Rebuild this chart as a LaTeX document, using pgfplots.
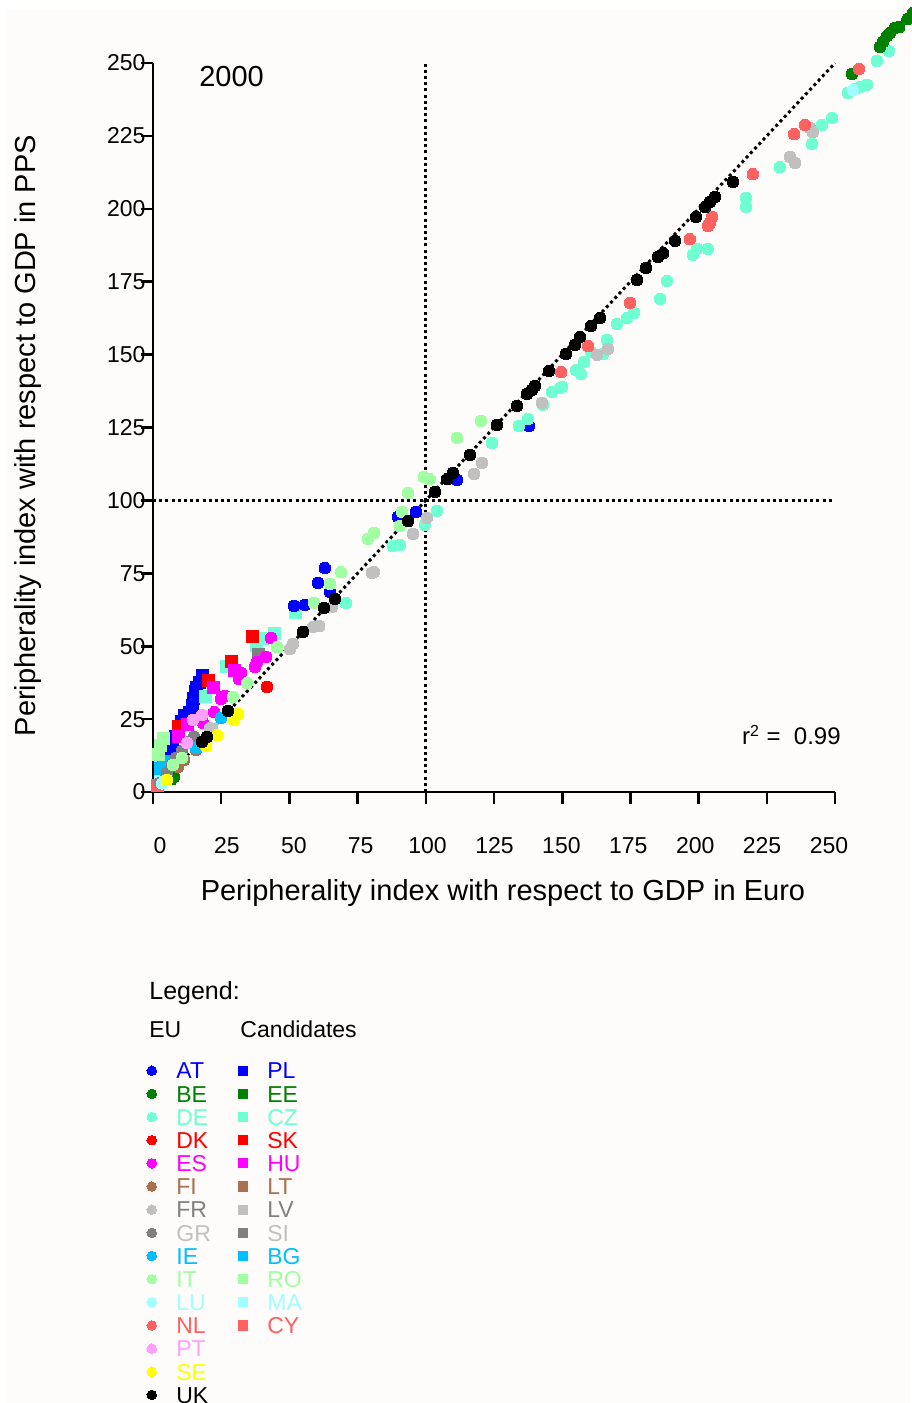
\documentclass[border=0pt]{standalone}
\usepackage{pgfplots}
\pgfplotsset{compat=1.18}
\usepackage{fontspec}
\setmainfont{Liberation Sans}

\definecolor{bg}{RGB}{253,252,250}
\definecolor{cBlue}{RGB}{0,0,255}
\definecolor{cGreen}{RGB}{0,128,0}
\definecolor{cAqua}{RGB}{112,255,210}
\definecolor{cRed}{RGB}{255,0,0}
\definecolor{cMag}{RGB}{255,0,255}
\definecolor{cBrown}{RGB}{168,112,79}
\definecolor{cLGray}{RGB}{192,192,192}
\definecolor{cGray}{RGB}{128,128,128}
\definecolor{cSky}{RGB}{0,191,255}
\definecolor{cPaleG}{RGB}{160,255,160}
\definecolor{cLCyan}{RGB}{160,255,255}
\definecolor{cSalmon}{RGB}{255,96,96}
\definecolor{cPink}{RGB}{255,160,255}
\definecolor{cYellow}{RGB}{255,255,0}

\pgfplotsset{
  eu/.style={only marks, mark=*, mark size=2.9pt, color=#1, mark options={fill=#1, draw=#1, line width=0pt}, forget plot},
  cand/.style={only marks, mark=square*, mark size=3pt, color=#1, mark options={fill=#1, draw=#1, line width=0pt}, forget plot},
  legeu/.style={only marks, mark=*, mark size=2.4pt, color=#1, mark options={line width=0pt},
    legend image code/.code={\draw[##1] plot coordinates {(0pt,0pt)};}},
  legca/.style={only marks, mark=square*, mark size=2.3pt, color=#1, mark options={line width=0pt},
    legend image code/.code={\draw[##1] plot coordinates {(0pt,0pt)};}},
  refline/.style={forget plot, black, line width=1.5pt, dash pattern=on 1.5pt off 1.6pt},
}
\newcommand{\ltx}[2]{\makebox[31pt][l]{\textcolor{#1}{#2}}}

\begin{document}
\begin{tikzpicture}
\fill[bg] (-73.5pt,-305.5pt) rectangle (379pt,391pt);
\begin{axis}[
    scale only axis,
    width=341pt, height=364.5pt,
    xmin=0, xmax=250, ymin=0, ymax=250,
    clip=false,
    axis x line*=bottom, axis y line*=left,
    axis line style={line width=1.3pt, -},
    xtick={0,25,...,250}, ytick={0,25,...,250},
    tick align=outside, major tick length=5.75pt,
    tick style={line width=1.3pt, black},
    ticklabel style={font=\fontsize{11.5}{13}\selectfont},
    /pgf/number format/assume math mode=true,
    xticklabel={\pgfmathsetmacro{\sh}{7-0.052*\tick}\hspace*{\sh pt}\pgfmathprintnumber{\tick}},
    xticklabel style={yshift=-13.5pt},
    yticklabel style={xshift=5.5pt},
    xlabel={Peripherality index with respect to GDP in Euro},
    ylabel={Peripherality index with respect to GDP in PPS},
    label style={font=\fontsize{14.5}{17}\selectfont},
    xlabel style={at={(axis description cs:0.5132,-0.149)}, anchor=base},
    ylabel style={at={(axis description cs:-0.1716,0.489)}, anchor=base},
    legend columns=2, legend cell align=left,
    legend style={at={(axis description cs:-0.0088,-0.3709)}, anchor=north west,
      draw=none, fill=none, inner sep=0pt, outer sep=0pt, row sep=3.28pt,
      font=\fontsize{11.5}{11.5}\selectfont,
      nodes={inner sep=0pt, outer sep=0pt, text height=8.3pt, text depth=0pt},
      /tikz/every odd column/.append style={column sep=9.9pt}},
]

% reference lines
\addplot[refline] coordinates {(100,0) (100,250)};
\addplot[refline] coordinates {(0,100) (250,100)};
\addplot[refline] coordinates {(0,0) (250,250)};

% candidates
\addplot[cand=cBlue] coordinates {(18.3,40.1) (16.9,37.7) (16.1,36.0) (15.4,34.3) (14.7,32.2) (14.3,29.8) (13.2,27.4) (11.7,26.1) (10.3,24.3) (9.2,21.9) (8.1,18.9) (7.3,16.1) (6.6,13.7)};
\addplot[cand=cGreen] coordinates {(6.0,4.5)};
\addplot[cand=cAqua] coordinates {(52.1,61.7) (44.7,54.5) (40.0,52.5) (38.1,50.1) (27.1,42.9) (19.1,32.6) (2.6,4.1)};
\addplot[cand=cRed] coordinates {(36.3,53.5) (28.6,44.9) (20.5,38.1) (9.2,22.3)};
\addplot[cand=cMag] coordinates {(29.7,41.8) (22.0,36.0) (12.8,23.0) (9.2,18.9)};
\addplot[cand=cBrown] coordinates {(4.8,6.9)};
\addplot[cand=cLGray] coordinates {(21.3,21.3)};
\addplot[cand=cGray] coordinates {(38.5,47.0)};
\addplot[cand=cSky] coordinates {(3.7,10.3) (2.6,8.2)};
\addplot[cand=cPaleG] coordinates {(3.7,18.5) (2.9,15.8) (2.2,13.0)};
\addplot[cand=cLCyan] coordinates {(2.9,3.4)};
\addplot[cand=cSalmon] coordinates {(1.5,2.1)};

% EU
\addplot[eu=cBlue] coordinates {(137.8,125.5) (111.4,107.0) (96.4,96.0) (89.8,94.3) (63.0,76.8) (60.5,71.7) (64.9,68.6) (55.7,64.1) (51.7,63.8)};
\addplot[eu=cAqua] coordinates {(269.8,254.1) (265.4,250.7) (254.8,239.7) (257.3,241.1) (259.2,241.8) (261.7,242.5)
  (248.9,231.1) (245.2,228.7) (241.6,222.2) (229.8,214.3) (217.4,203.7) (217.4,200.6) (203.4,186.2) (199.4,186.2)
  (197.9,184.2) (188.4,175.2) (185.9,169.1) (176.3,164.3) (173.8,162.6) (170.1,160.5) (166.4,155.0) (165.0,150.2)
  (160.6,150.9) (158.0,147.5) (155.1,144.7) (156.9,143.3) (149.9,138.9) (149.2,138.5) (146.3,137.2) (143.0,132.7)
  (137.5,127.9) (134.2,125.5) (124.3,119.7) (104.1,96.4) (99.7,91.6) (90.5,84.7) (88.0,84.4) (70.7,64.8)};
\addplot[eu=cGreen] coordinates {(256.2,246.2) (266.5,255.5) (267.6,257.2) (269.1,259.3) (270.2,260.3) (272.0,262.0) (273.5,262.3) (276.6,265.1) (278.6,267.1) (7.7,5.1)};
\addplot[eu=cRed] coordinates {(41.8,36.0)};
\addplot[eu=cMag] coordinates {(43.3,52.8) (41.4,46.3) (38.1,44.6) (37.4,42.9) (32.3,40.8) (31.5,38.8) (26.4,32.9) (24.9,31.9) (22.4,27.4) (18.3,23.7)};
\addplot[eu=cBrown] coordinates {(15.8,14.4) (11.4,11.0) (9.2,8.6)};
\addplot[eu=cLGray] coordinates {(240.8,227.7) (241.9,226.3) (233.5,217.8) (235.3,215.7) (166.8,151.9) (162.8,149.9) (142.6,133.4)
  (120.6,112.8) (117.7,109.1) (100.4,94.0) (95.3,88.5) (81.0,75.4) (80.3,75.1) (65.6,63.4) (60.9,56.9) (58.7,56.6)
  (51.3,50.8) (50.2,49.0) (20.9,21.9)};
\addplot[eu=cGray] coordinates {(15.0,18.9) (13.2,17.1) (10.6,14.1) (8.4,11.7) (7.0,9.3) (5.1,6.5) (2.6,3.1)};
\addplot[eu=cSky] coordinates {(24.9,25.4) (15.8,15.1)};
\addplot[eu=cPaleG] coordinates {(120.2,127.2) (111.4,121.4) (101.5,107.3) (99.3,108.0) (93.5,102.5) (91.3,96.0) (90.5,91.2)
  (81.0,88.8) (78.8,86.8) (68.9,75.4) (64.9,71.3) (59.0,64.8) (45.5,49.7) (34.5,37.4) (29.3,32.6) (10.6,11.7) (7.3,9.3)};
\addplot[eu=cLCyan] coordinates {(256.6,240.7) (3.3,3.0)};
\addplot[eu=cSalmon] coordinates {(258.8,247.9) (239.0,228.7) (235.0,225.6) (219.9,211.9) (204.9,197.2) (204.2,195.1) (203.4,194.1)
  (196.8,189.6) (174.9,167.7) (159.5,152.9) (149.6,144.0)};
\addplot[eu=cPink] coordinates {(18.0,26.4) (14.7,24.7) (12.5,16.8)};
\addplot[eu=cYellow] coordinates {(31.2,26.7) (29.7,24.7) (23.5,19.5) (19.4,15.8) (5.1,4.1)};
\addplot[eu=black] coordinates {(17.96,17.15) (19.8,18.9) (27.5,27.8) (55.0,54.9) (62.7,63.1) (66.7,66.2) (93.5,92.9)
  (103.4,102.9) (107.8,107.3) (110.0,109.4) (116.2,115.6) (126.1,125.9) (133.4,132.4) (137.1,136.5) (138.9,137.9)
  (140.0,139.2) (145.2,144.4) (151.4,150.2) (154.7,153.3) (156.5,156.0) (160.6,159.8) (163.9,162.6) (177.4,175.6)
  (180.7,179.7) (185.1,183.5) (187.0,184.8) (191.4,189.0) (199.1,197.2) (202.4,200.6) (204.2,202.3) (206.0,204.1) (212.6,209.2)};

% legend (EU column / candidates column)
\addlegendimage{legeu=cBlue}\addlegendentry{\ltx{cBlue}{AT}}
\addlegendimage{legca=cBlue}\addlegendentry{\textcolor{cBlue}{PL}}
\addlegendimage{legeu=cGreen}\addlegendentry{\ltx{cGreen}{BE}}
\addlegendimage{legca=cGreen}\addlegendentry{\textcolor{cGreen}{EE}}
\addlegendimage{legeu=cAqua}\addlegendentry{\ltx{cAqua}{DE}}
\addlegendimage{legca=cAqua}\addlegendentry{\textcolor{cAqua}{CZ}}
\addlegendimage{legeu=cRed}\addlegendentry{\ltx{cRed}{DK}}
\addlegendimage{legca=cRed}\addlegendentry{\textcolor{cRed}{SK}}
\addlegendimage{legeu=cMag}\addlegendentry{\ltx{cMag}{ES}}
\addlegendimage{legca=cMag}\addlegendentry{\textcolor{cMag}{HU}}
\addlegendimage{legeu=cBrown}\addlegendentry{\ltx{cBrown}{FI}}
\addlegendimage{legca=cBrown}\addlegendentry{\textcolor{cBrown}{LT}}
\addlegendimage{legeu=cLGray}\addlegendentry{\ltx{cGray}{FR}}
\addlegendimage{legca=cLGray}\addlegendentry{\textcolor{cGray}{LV}}
\addlegendimage{legeu=cGray}\addlegendentry{\ltx{cLGray}{GR}}
\addlegendimage{legca=cGray}\addlegendentry{\textcolor{cLGray}{SI}}
\addlegendimage{legeu=cSky}\addlegendentry{\ltx{cSky}{IE}}
\addlegendimage{legca=cSky}\addlegendentry{\textcolor{cSky}{BG}}
\addlegendimage{legeu=cPaleG}\addlegendentry{\ltx{cPaleG}{IT}}
\addlegendimage{legca=cPaleG}\addlegendentry{\textcolor{cPaleG}{RO}}
\addlegendimage{legeu=cLCyan}\addlegendentry{\ltx{cLCyan}{LU}}
\addlegendimage{legca=cLCyan}\addlegendentry{\textcolor{cLCyan}{MA}}
\addlegendimage{legeu=cSalmon}\addlegendentry{\ltx{cSalmon}{NL}}
\addlegendimage{legca=cSalmon}\addlegendentry{\textcolor{cSalmon}{CY}}
\addlegendimage{legeu=cPink}\addlegendentry{\ltx{cPink}{PT}}
\addlegendimage{empty legend}\addlegendentry{}
\addlegendimage{legeu=cYellow}\addlegendentry{\ltx{cYellow}{SE}}
\addlegendimage{empty legend}\addlegendentry{}
\addlegendimage{legeu=black}\addlegendentry{\ltx{black}{UK}}

\node[anchor=base west, inner sep=0pt, font=\fontsize{14.5}{17}\selectfont] at (axis description cs:0.0674,0.9671) {2000};
\node[anchor=base west, inner sep=0pt, font=\fontsize{12}{14}\selectfont] at (axis description cs:0.8631,0.0645) {r\textsuperscript{2} =\ \ 0.99};
\end{axis}

\node[anchor=base west, inner sep=0pt, font=\fontsize{12.5}{15}\selectfont] at (-2pt,-103.5pt) {Legend:};
\node[anchor=base west, inner sep=0pt, font=\fontsize{11.5}{14}\selectfont] at (-2pt,-122.9pt) {EU};
\node[anchor=base west, inner sep=0pt, font=\fontsize{11.5}{14}\selectfont] at (43.5pt,-122.9pt) {Candidates};

\pgfresetboundingbox
\useasboundingbox (-76.5pt,-305.5pt) rectangle (379pt,396pt);
\end{tikzpicture}
\end{document}
